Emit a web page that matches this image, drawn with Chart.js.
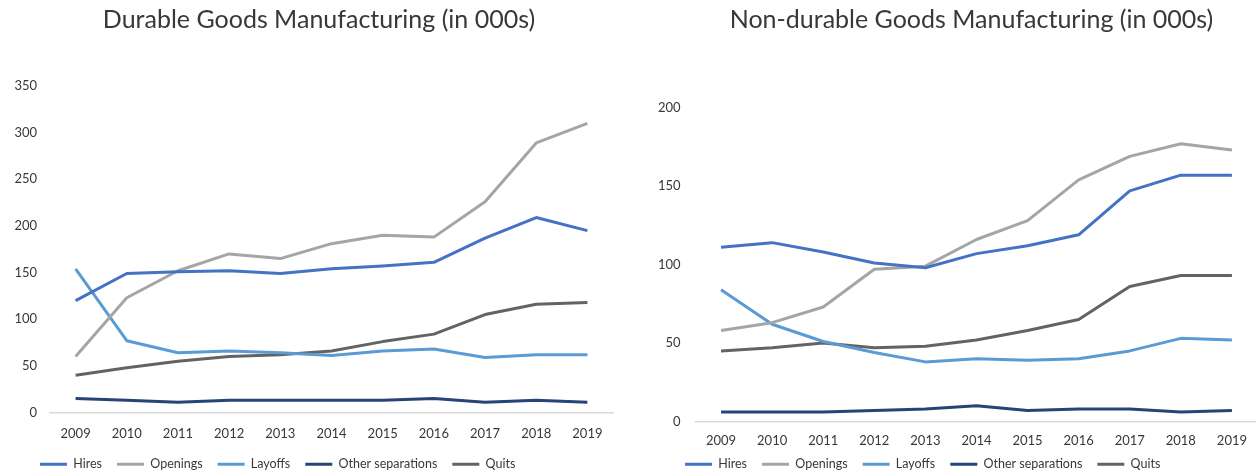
<!DOCTYPE html>
<html>
<head>
<meta charset="utf-8">
<script src="https://cdn.jsdelivr.net/npm/chart.js@4.4.0/dist/chart.umd.min.js"></script>
<style>
  html, body { margin: 0; padding: 0; background: #fff; overflow: hidden; }
  #wrap { position: relative; width: 1256px; height: 475px; overflow: hidden; }
  .box { position: absolute; top: 0; height: 510px; }
  #b1 { left: 0; width: 628px; }
  #b2 { left: 628px; width: 631px; }
</style>
</head>
<body>
<div id="wrap">
  <div class="box" id="b1"><canvas id="c1"></canvas></div>
  <div class="box" id="b2"><canvas id="c2"></canvas></div>
</div>
<script>
const categories = ['2009','2010','2011','2012','2013','2014','2015','2016','2017','2018','2019'];
const seriesNames = ['Hires','Openings','Layoffs','Other separations','Quits'];

// Durable goods manufacturing (in 000s)
const durHires     = [120,149,151,152,149,154,157,161,187,209,195];
const durOpenings  = [60,123,152,170,165,181,190,188,226,289,310];
const durLayoffs   = [154,77,64,66,64,61,66,68,59,62,62];
const durOther     = [15,13,11,13,13,13,13,15,11,13,11];
const durQuits     = [40,48,55,60,62,66,76,84,105,116,118];

// Non-durable goods manufacturing (in 000s)
const ndHires      = [111,114,108,101,98,107,112,119,147,157,157];
const ndOpenings   = [58,63,73,97,99,116,128,154,169,177,173];
const ndLayoffs    = [84,62,51,44,38,40,39,40,45,53,52];
const ndOther      = [6,6,6,7,8,10,7,8,8,6,7];
const ndQuits      = [45,47,50,47,48,52,58,65,86,93,93];

const colors = ['#4472C4','#A5A5A5','#5B9BD5','#264478','#636363'];
const FONT = 'Lato, "Open Sans", sans-serif';
const TXT = '#383838';

// shifts legend / title boxes after layout (positions only)
const boxShift = {
  id: 'boxShift',
  afterLayout(chart, args, opts) {
    const l = chart.legend;
    if (l) { l.left += opts.legendDx; l.right += opts.legendDx; l.top += opts.legendDy; l.bottom += opts.legendDy; }
    const t = chart.titleBlock;
    if (t) { t.left += opts.titleDx; t.right += opts.titleDx; }
  }
};

function makeChart(id, title, data, yMax, cfg) {
  const sets = data.map((d, i) => ({
    label: seriesNames[i],
    data: d,
    borderColor: colors[i],
    backgroundColor: colors[i],
    borderWidth: 3,
    pointRadius: 0,
    pointHoverRadius: 0,
    tension: 0,
    fill: false,
    borderJoinStyle: 'round'
  }));
  return new Chart(document.getElementById(id), {
    type: 'line',
    data: { labels: categories, datasets: sets },
    plugins: [boxShift],
    options: {
      responsive: true,
      maintainAspectRatio: false,
      animation: false,
      events: [],
      layout: { padding: cfg.layoutPadding },
      plugins: {
        boxShift: cfg.shift,
        title: {
          display: true,
          text: title,
          color: TXT,
          font: { family: FONT, size: 25, weight: 'normal' },
          padding: cfg.titlePadding
        },
        legend: {
          display: true,
          position: 'bottom',
          align: 'start',
          labels: {
            usePointStyle: true,
            pointStyle: 'line',
            pointStyleWidth: 27,
            boxHeight: 3,
            padding: 15,
            color: TXT,
            font: { family: FONT, size: 12.5 }
          }
        },
        tooltip: { enabled: false }
      },
      scales: {
        x: {
          offset: true,
          grid: { display: false, drawTicks: false },
          border: { display: true, color: '#D9D9D9', width: 1.5 },
          ticks: { color: TXT, font: { family: FONT, size: 13 }, padding: cfg.xPad, maxRotation: 0, autoSkip: false }
        },
        y: {
          min: 0,
          max: yMax,
          grid: { display: false, drawTicks: false },
          border: { display: false },
          ticks: { stepSize: 50, color: TXT, font: { family: FONT, size: 13 }, padding: cfg.yPad },
          afterFit: (s) => { s.width = cfg.yWidth; }
        }
      }
    }
  });
}

makeChart('c1', 'Durable Goods Manufacturing (in 000s)',
  [durHires, durOpenings, durLayoffs, durOther, durQuits], 350,
  { layoutPadding: { left: 0, right: 15, top: 0, bottom: 16.4 },
    titlePadding: { top: 5, bottom: 51 }, xPad: 14, yPad: 13, yWidth: 50,
    shift: { legendDx: 25, legendDy: -13, titleDx: 12.5 } });

makeChart('c2', 'Non-durable Goods Manufacturing (in 000s)',
  [ndHires, ndOpenings, ndLayoffs, ndOther, ndQuits], 200,
  { layoutPadding: { left: 0, right: 0, top: 0, bottom: 11.4 },
    titlePadding: { top: 5, bottom: 72.7 }, xPad: 12, yPad: 15, yWidth: 67.5,
    shift: { legendDx: 42, legendDy: -18, titleDx: 28 } });
</script>
</body>
</html>
